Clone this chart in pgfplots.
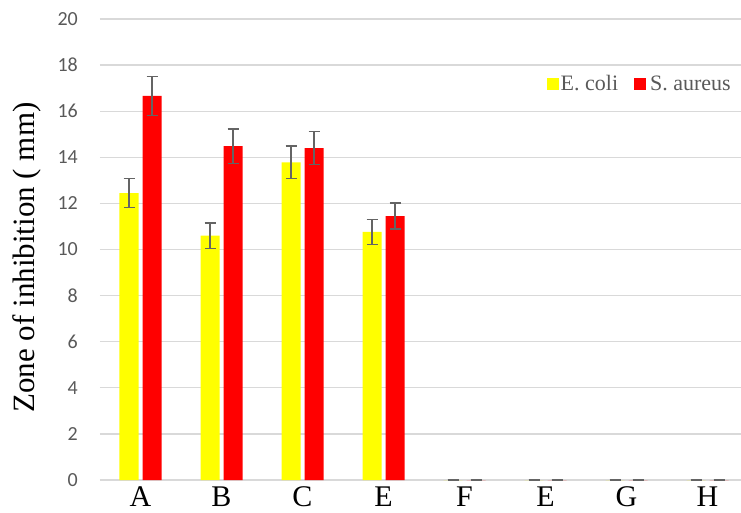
\documentclass[border=0pt]{standalone}
\usepackage{pgfplots}
\pgfplotsset{compat=1.18}
\usepackage{pgfplotstable}
\usepackage{fontspec}
\setmainfont{Liberation Serif}
\newfontfamily\calib{Carlito}
\newfontfamily\timesf{Liberation Serif}
\definecolor{ecoli}{RGB}{255,255,0}
\definecolor{saureus}{RGB}{255,0,0}
\definecolor{gridgray}{RGB}{217,217,217}
\definecolor{txtgray}{RGB}{89,89,89}
\definecolor{errgray}{RGB}{100,100,100}
\pgfplotstableread{
x ec ecerr sa saerr
0 12.45 0.62 16.66 0.84
1 10.60 0.55 14.48 0.74
2 13.78 0.70 14.40 0.72
3 10.76 0.54 11.45 0.57
4 0 0 0 0
5 0 0 0 0
6 0 0 0 0
7 0 0 0 0
}\data
\begin{document}
\begin{tikzpicture}
\begin{axis}[
  scale only axis, width=648pt, height=461pt,
  xmin=-0.5, xmax=7.5, ymin=0, ymax=20,
  ybar, bar width=19pt,
  xtick={0,...,7}, xticklabels={A,B,C,E,F,E,G,H},
  ytick={0,2,...,20},
  ymajorgrids, grid style={gridgray, line width=1.3pt},
  axis x line*=bottom, axis y line*=left,
  x axis line style={gridgray, line width=1.3pt},
  y axis line style={draw=none},
  major tick length=0pt, tick style={draw=none},
  /pgf/number format/assume math mode=true,
  yticklabel style={font=\calib\fontsize{20}{20}\selectfont, text=txtgray, inner sep=0pt, xshift=-22pt},
  xticklabel style={font=\timesf\fontsize{30}{30}\selectfont, anchor=base, inner sep=0pt, yshift=-26pt},
  ylabel={Zone of inhibition ( mm)},
  ylabel style={at={(axis description cs:-0.1127,0.4826)}, anchor=center, font=\timesf\fontsize{31}{31}\selectfont},
  legend columns=2,
  legend style={at={(axis description cs:0.6898,0.859)}, anchor=west, draw=none, fill=none, inner sep=0pt,
    font=\timesf\fontsize{22}{22}\selectfont, text=txtgray, nodes={inner sep=1.5pt},
    /tikz/every even column/.append style={column sep=14pt}},
]
\addplot[fill=ecoli, draw=none, bar shift=-11.5pt,
  legend image code/.code={\fill[ecoli] (0pt,-6pt) rectangle (12pt,6pt);},
  error bars/.cd, y dir=both, y explicit,
  error bar style={errgray, line width=1.5pt},
  error mark options={rotate=90, errgray, line width=1.5pt, mark size=5.5pt}]
  table[x=x, y=ec, y error=ecerr] {\data};
\addlegendentry{E. coli}
\addplot[fill=saureus, draw=none, bar shift=11.5pt,
  legend image code/.code={\fill[saureus] (0pt,-6pt) rectangle (12pt,6pt);},
  error bars/.cd, y dir=both, y explicit,
  error bar style={errgray, line width=1.5pt},
  error mark options={rotate=90, errgray, line width=1.5pt, mark size=5.5pt}]
  table[x=x, y=sa, y error=saerr] {\data};
\addlegendentry{\hspace{3pt}S. aureus}
\end{axis}
\pgfresetboundingbox
\useasboundingbox ([xshift=-100pt,yshift=-32pt]current axis.south west) rectangle ([xshift=-7pt,yshift=19pt]current axis.north east);
\end{tikzpicture}
\end{document}
